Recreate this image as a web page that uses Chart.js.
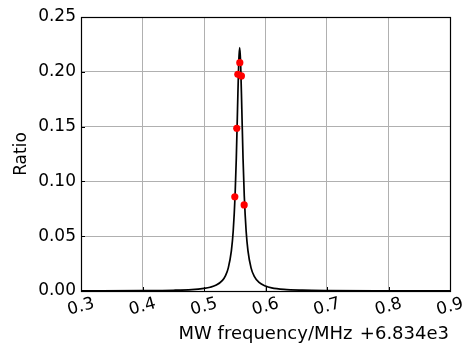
<!DOCTYPE html>
<html>
<head>
<meta charset="utf-8">
<script src="https://cdn.jsdelivr.net/npm/chart.js@4/dist/chart.umd.min.js"></script>
<style>
html,body{margin:0;padding:0;background:#fff;}
#wrap{width:465px;height:345px;position:relative;}
</style>
</head>
<body>
<div id="wrap"><canvas id="c" width="465" height="345"></canvas></div>
<script>
// Fitted curve
const curveX = [0.30, 0.40, 0.45, 0.48, 0.50, 0.51, 0.52, 0.53, 0.535, 0.5395, 0.5445, 0.5475, 0.5505, 0.5525, 0.5545, 0.5565, 0.558, 0.5595, 0.5615, 0.5635, 0.5655, 0.5685, 0.5715, 0.5765, 0.5815, 0.5895, 0.60, 0.61, 0.63, 0.66, 0.70, 0.80, 0.90];
const curveY = [0.00012, 0.00032, 0.00068, 0.0013, 0.0024, 0.0034, 0.0054, 0.0097, 0.0140, 0.0211, 0.0366, 0.0547, 0.0866, 0.1206, 0.1656, 0.2089, 0.222, 0.2089, 0.1656, 0.1206, 0.0866, 0.0547, 0.0366, 0.0211, 0.0136, 0.0078, 0.0045, 0.0029, 0.0015, 0.00077, 0.0004, 0.00014, 0.00007];
// Measured points
const pointX = [0.5501, 0.5533, 0.5550, 0.5582, 0.5608, 0.5653];
const pointY = [0.0860, 0.1485, 0.1977, 0.2083, 0.1962, 0.0785];
// Ticks
const xTicks = [0.3, 0.4, 0.5, 0.6, 0.7, 0.8, 0.9];
const xTickLabels = ['0.3', '0.4', '0.5', '0.6', '0.7', '0.8', '0.9'];
const yTicks = [0.00, 0.05, 0.10, 0.15, 0.20, 0.25];
const xTitle = 'MW frequency/MHz';
const xOffsetText = '+6.834e3';
const yTitle = 'Ratio';

const FONT = 'DejaVu Sans';

const decor = {
  id: 'decor',
  afterDraw(chart) {
    const ctx = chart.ctx;
    const a = chart.chartArea;
    const xs = chart.scales.x, ys = chart.scales.y;
    ctx.save();
    // inward ticks
    ctx.strokeStyle = '#000';
    ctx.lineWidth = 1;
    ctx.beginPath();
    xTicks.forEach(v => {
      const px = Math.round(xs.getPixelForValue(v)) + 0.5;
      ctx.moveTo(px, a.bottom); ctx.lineTo(px, a.bottom - 4);
    });
    yTicks.forEach(v => {
      const py = Math.round(ys.getPixelForValue(v)) + 0.5;
      ctx.moveTo(a.left, py); ctx.lineTo(a.left + 4, py);
    });
    ctx.stroke();
    // frame
    ctx.strokeStyle = '#000';
    ctx.lineWidth = 1.2;
    ctx.strokeRect(Math.round(a.left) + 0.5, Math.round(a.top) + 0.5, Math.round(a.right - a.left), Math.round(a.bottom - a.top));
    // x tick labels, rotated, centered
    ctx.fillStyle = '#000';
    ctx.font = '17px "' + FONT + '"';
    ctx.textAlign = 'center';
    ctx.textBaseline = 'middle';
    xTicks.forEach((v, i) => {
      const px = xs.getPixelForValue(v);
      ctx.save();
      ctx.translate(px, a.bottom + 16);
      ctx.rotate(-15 * Math.PI / 180);
      ctx.fillText(xTickLabels[i], 0, 0);
      ctx.restore();
    });
    // x title
    ctx.textBaseline = 'alphabetic';
    ctx.textAlign = 'center';
    ctx.font = '18px "' + FONT + '"';
    ctx.fillText(xTitle, (a.left + a.right) / 2, 339);
    ctx.textAlign = 'right';
    ctx.fillText(xOffsetText, a.right - 1, 339);
    // y title
    ctx.save();
    ctx.translate(22, (a.top + a.bottom) / 2);
    ctx.rotate(-Math.PI / 2);
    ctx.textAlign = 'center';
    ctx.textBaseline = 'middle';
    ctx.font = '17px "' + FONT + '"';
    ctx.fillText(yTitle, 0, 0);
    ctx.restore();
    ctx.restore();
  }
};

new Chart(document.getElementById('c'), {
  type: 'scatter',
  data: {
    datasets: [
      {
        data: pointX.map((x, i) => ({x: x, y: pointY[i]})),
        backgroundColor: '#ff0000',
        borderColor: '#ff0000',
        borderWidth: 0,
        pointRadius: 3.6,
        showLine: false,
        order: 0
      },
      {
        data: curveX.map((x, i) => ({x: x, y: curveY[i]})),
        borderColor: '#000000',
        borderWidth: 1.7,
        pointRadius: 0,
        showLine: true,
        cubicInterpolationMode: 'monotone',
        order: 1
      }
    ]
  },
  options: {
    responsive: false,
    animation: false,
    devicePixelRatio: 1,
    layout: {padding: {left: 0, right: 15, top: 17, bottom: 54}},
    plugins: {legend: {display: false}, tooltip: {enabled: false}},
    scales: {
      x: {
        type: 'linear', min: 0.3, max: 0.9,
        afterBuildTicks: s => { s.ticks = xTicks.map(v => ({value: v})); },
        ticks: {display: false},
        grid: {color: '#b0b0b0', lineWidth: 1, drawTicks: false},
        border: {display: false}
      },
      y: {
        type: 'linear', min: 0, max: 0.25,
        afterBuildTicks: s => { s.ticks = yTicks.map(v => ({value: v})); },
        afterFit: s => { s.width = 81; },
        ticks: {
          color: '#000', padding: 5,
          font: {family: FONT, size: 17},
          callback: v => Number(v).toFixed(2)
        },
        grid: {color: '#b0b0b0', lineWidth: 1, drawTicks: false},
        border: {display: false}
      }
    }
  },
  plugins: [decor]
});
</script>
</body>
</html>
